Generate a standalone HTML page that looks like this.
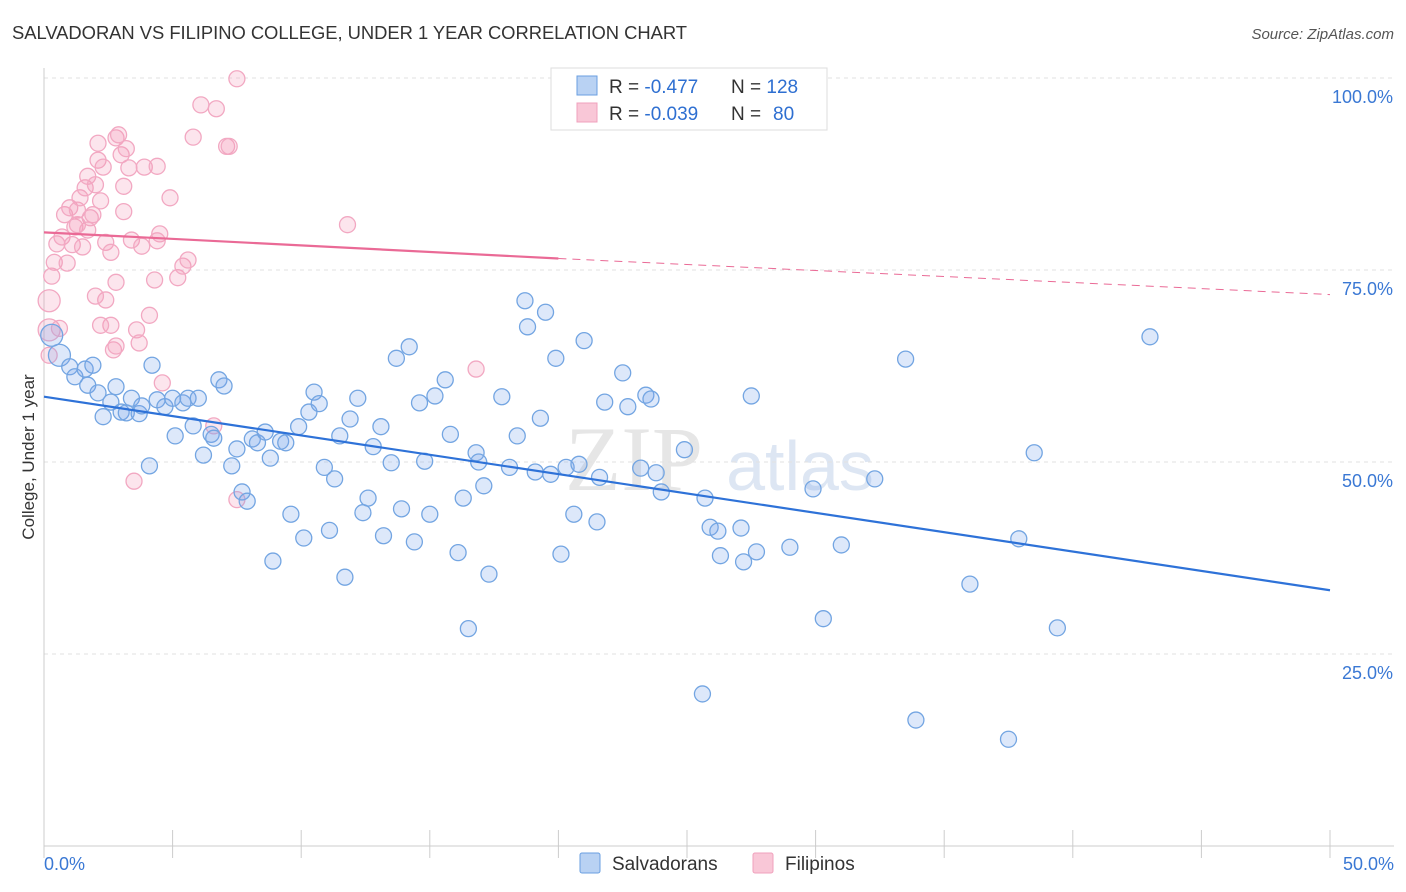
<!DOCTYPE html>
<html><head><meta charset="utf-8"><style>
body{margin:0;background:#fff;font-family:"Liberation Sans",sans-serif;}
#wrap{position:relative;width:1406px;height:892px;overflow:hidden;}
</style></head><body>
<div id="wrap">
<svg id="svg" width="1406" height="892" xmlns="http://www.w3.org/2000/svg">
<text x="12" y="39" font-size="18.4" fill="#333" textLength="675">SALVADORAN VS FILIPINO COLLEGE, UNDER 1 YEAR CORRELATION CHART</text>
<text x="1394" y="39" font-size="15" fill="#555" text-anchor="end" font-style="italic">Source: ZipAtlas.com</text>
<text x="634" y="490" font-size="92" fill="#e6e6e6" font-family="Liberation Serif,serif" text-anchor="middle">ZIP</text>
<text x="800" y="490" font-size="70" fill="#dde6f3" text-anchor="middle">atlas</text>
<g id="grid"></g><g id="axes"></g><g id="pts"></g><g id="lines"></g>
<text transform="translate(34,457) rotate(-90)" font-size="17" fill="#333" text-anchor="middle">College, Under 1 year</text>
<g>
<rect x="551" y="68" width="276" height="62" fill="#fff" stroke="#ddd"/>
<rect x="577" y="76" width="20" height="19" fill="#b9d2f3" stroke="#6a9fe0"/>
<rect x="577" y="103" width="20" height="19" fill="#f9c7d7" stroke="#f0a0bc"/>
<text x="609" y="93" font-size="19" fill="#333">R = <tspan fill="#2e6fd1">-0.477</tspan>   <tspan x="731">N = </tspan><tspan fill="#2e6fd1">128</tspan></text>
<text x="609" y="120" font-size="19" fill="#333">R = <tspan fill="#2e6fd1">-0.039</tspan>   <tspan x="731">N = </tspan><tspan fill="#2e6fd1" x="773">80</tspan></text>
</g>
<g>
<rect x="580" y="853" width="20" height="20" fill="#b9d2f3" stroke="#6a9fe0" rx="2"/>
<text x="612" y="870" font-size="19" fill="#333">Salvadorans</text>
<rect x="753" y="853" width="20" height="20" fill="#f9c7d7" stroke="#f0a0bc" rx="2"/>
<text x="785" y="870" font-size="19" fill="#333">Filipinos</text>
</g>
</svg>
</div>
<script>
const blueX=[0.3,0.6,1.0,1.2,1.6,1.7,1.9,2.1,2.3,2.6,2.8,3.0,3.2,3.4,3.7,3.8,4.1,4.2,4.4,4.7,5.0,5.1,5.4,5.6,5.8,6.0,6.2,6.5,6.6,6.8,7.0,7.3,7.5,7.7,7.9,8.1,8.3,8.6,8.8,8.9,9.2,9.4,9.6,9.9,10.1,10.3,10.5,10.7,10.9,11.1,11.3,11.5,11.7,11.9,12.2,12.4,12.6,12.8,13.1,13.2,13.5,13.7,13.9,14.2,14.4,14.6,14.8,15.0,15.2,15.6,15.8,16.1,16.3,16.5,16.8,16.9,17.1,17.3,17.8,18.1,18.4,18.7,18.8,19.1,19.3,19.5,19.7,19.9,20.1,20.3,20.6,20.8,21.0,21.5,21.6,21.8,22.5,22.7,23.2,23.4,23.6,23.8,24.0,24.9,25.6,25.7,25.9,26.2,26.3,27.1,27.2,27.5,27.7,29.0,29.9,30.3,31.0,32.3,33.5,33.9,36.0,37.5,37.9,38.5,39.4,43.0];
const blueY=[66.5,63.9,62.4,61.1,62.1,60.0,62.6,59.0,55.9,57.8,59.8,56.5,56.4,58.3,56.3,57.3,49.5,62.6,58.1,57.2,58.3,53.4,57.7,58.3,54.7,58.3,50.9,53.6,53.1,60.7,59.9,49.5,51.7,46.1,44.9,53.0,52.5,53.9,50.5,37.1,52.7,52.5,43.2,54.6,40.1,56.5,59.1,57.6,49.3,41.1,47.8,53.4,35.0,55.6,58.3,43.4,45.3,52.0,54.6,40.4,49.9,63.5,43.9,65.0,39.6,57.7,50.1,43.2,58.6,60.7,53.6,38.2,45.3,28.3,51.2,50.0,46.9,35.4,58.5,49.3,53.4,71.0,67.6,48.7,55.7,69.5,48.4,63.5,38.0,49.3,43.2,49.7,65.8,42.2,48.0,57.8,61.6,57.2,49.2,58.7,58.2,48.6,46.1,51.6,19.8,45.3,41.5,41.0,37.8,41.4,37.0,58.6,38.3,38.9,46.5,29.6,39.2,47.8,63.4,16.4,34.1,13.9,40.0,51.2,28.4,66.3];
const pinkX=[0.2,0.2,0.2,0.3,0.4,0.5,0.7,0.8,1.0,1.1,1.2,1.3,1.4,1.5,1.6,1.7,1.8,1.9,2.0,2.1,2.1,2.2,2.3,2.4,2.4,2.6,2.7,2.8,2.8,2.9,3.0,3.1,3.1,3.2,3.3,3.4,3.5,3.6,3.7,3.8,3.9,4.1,4.3,4.4,4.5,4.4,4.6,4.9,5.2,5.4,5.6,5.8,6.1,6.6,6.7,7.1,7.2,7.5,7.5,11.8,16.8,0.6,1.7,2.6,2.0,0.9,2.2,2.8,1.3];
const pinkY=[71.0,67.2,63.9,74.2,76.0,78.4,79.3,82.2,83.1,78.3,80.6,82.8,84.4,78.0,85.7,87.2,81.8,82.2,86.1,91.5,89.3,84.0,88.4,78.6,71.1,67.8,64.6,65.1,92.2,92.6,90.0,82.6,85.9,90.8,88.3,78.9,47.5,67.2,65.5,78.1,88.4,69.1,73.7,88.5,79.7,78.8,60.3,84.4,74.0,75.5,76.3,92.3,96.5,54.7,96.0,91.1,91.1,45.1,99.9,80.9,62.1,67.4,80.2,77.3,71.6,75.9,67.8,73.4,80.9];
const xTicks=[0,5,10,15,20,25,30,35,40,45,50];
const yTicks=[25,50,75,100];
const yTickLabels=["25.0%","50.0%","75.0%","100.0%"];
const blueLine=[58.5,33.3];
const pinkLine=[79.9,76.5,71.8];
const NS='http://www.w3.org/2000/svg';
const X=v=>44+v*1286/50, Y=v=>846-v*7.68;
function mk(t,a,p){const e=document.createElementNS(NS,t);for(const k in a)e.setAttribute(k,a[k]);document.getElementById(p).appendChild(e);return e;}
yTicks.forEach((t,i)=>{
 const g=mk('line',{x1:44,x2:1394,y1:Y(t),y2:Y(t),stroke:'#e2e2e2','stroke-dasharray':'4,4'},'grid');
 
 
 const l=mk('text',{x:1393,y:Y(t)+25,'font-size':18,fill:'#3a78d4','text-anchor':'end'},'axes');l.textContent=yTickLabels[i];
 
 
});
const ax=mk('line',{x1:44,x2:44,y1:68,y2:846,stroke:'#ccc'},'axes');


const bx=mk('line',{x1:44,x2:1394,y1:846,y2:846,stroke:'#ccc'},'axes');


xTicks.forEach(t=>{const e=mk('line',{x1:X(t),x2:X(t),y1:830,y2:858,stroke:'#ccc'},'axes');
 
 });
[[0,'0.0%',44,'start'],[50,'50.0%',1394,'end']].forEach(a=>{const e=mk('text',{x:a[2],y:870,'font-size':18,fill:'#3a78d4','text-anchor':a[3]},'axes');e.textContent=a[1];
 
 });
pinkX.forEach((x,i)=>{const r=i<2?11:8;const c=mk('circle',{cx:X(x),cy:Y(pinkY[i]),r:r,fill:'rgba(244,150,185,0.25)',stroke:'#f2a8c2','stroke-width':1.3},'pts');
 
 });
blueX.forEach((x,i)=>{const r=i<2?11:8;const c=mk('circle',{cx:X(x),cy:Y(blueY[i]),r:r,fill:'rgba(120,165,235,0.25)',stroke:'#73a5e2','stroke-width':1.3},'pts');
 
 });
const bl=mk('line',{x1:X(0),y1:Y(blueLine[0]),x2:X(50),y2:Y(blueLine[1]),stroke:'#2e72d8','stroke-width':2.2},'lines');


const pl=mk('line',{x1:X(0),y1:Y(pinkLine[0]),x2:X(20),y2:Y(pinkLine[1]),stroke:'#ea6a96','stroke-width':2.2},'lines');


const pd=mk('line',{x1:X(20),y1:Y(pinkLine[1]),x2:X(50),y2:Y(pinkLine[2]),stroke:'#ea6a96','stroke-width':1,'stroke-dasharray':'8,6'},'lines');


</script>
</body></html>
